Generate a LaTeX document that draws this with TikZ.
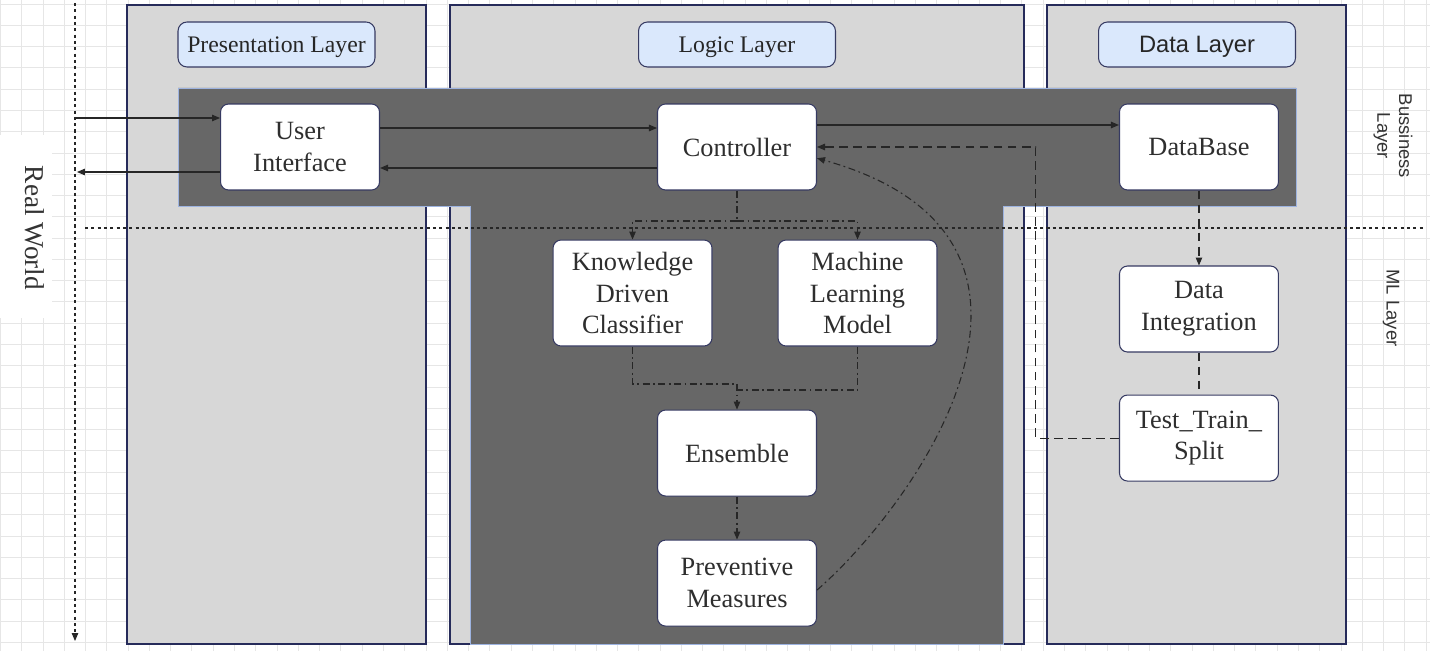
\documentclass[tikz,border=0pt]{standalone}
\usepackage{fontspec}
\setmainfont{Liberation Serif}
\newfontfamily\labelsans{Liberation Sans}
\usepackage{tikz}
\usetikzlibrary{arrows.meta, positioning}

\definecolor{panelgray}{HTML}{D7D7D7}
\definecolor{paneledge}{HTML}{262B5A}
\definecolor{darkband}{HTML}{676767}
\definecolor{bandedge}{HTML}{9DB3E0}
\definecolor{headerblue}{HTML}{DAE8FC}
\definecolor{boxedge}{HTML}{363A62}
\definecolor{gridgray}{HTML}{E6E6E6}

\begin{document}
\begin{tikzpicture}[
        x=0.02cm, y=-0.02cm,
        panel/.style={draw=paneledge, line width=0.6pt, fill=panelgray},
        band/.style={draw=bandedge, line width=0.5pt, fill=darkband},
        header/.style={rectangle, draw=boxedge, line width=0.6pt, rounded corners=0.18cm, fill=headerblue, minimum width=3.94cm, minimum height=0.9cm, text depth=0pt, text=black!85, font=\fontsize{13.5}{16}\selectfont},
        block/.style={rectangle, draw=boxedge, line width=0.6pt, rounded corners=0.16cm, fill=white, minimum width=3.18cm, minimum height=1.72cm, align=center, text=black!82, font=\fontsize{15}{18}\selectfont},
        tallblock/.style={block, minimum height=2.12cm},
        sidelabel/.style={rotate=-90, align=center, text=black!80, font=\labelsans\fontsize{10.5}{12.5}\selectfont},
        arrow/.style={-{Triangle[length=1.6mm, width=1.3mm]}},
        link/.style={line width=0.6pt, draw=black!85},
        mlflow/.style={link, dash pattern=on 4pt off 2pt on 1pt off 2pt},
        dataflow/.style={link, dash pattern=on 5pt off 3pt},
        boundary/.style={line width=0.6pt, draw=black!85, dash pattern=on 1.8pt off 1.8pt},
        gridline/.style={draw=gridgray, line width=0.5pt}
    ]
    \useasboundingbox (0,0) rectangle (1430,651);

    % Background grid
    \foreach \i in {0,...,67} \draw[gridline] ({0.4+21.28*\i},0) -- ++(0,651);
    \foreach \j in {0,...,30} \draw[gridline] (0,{4+21.28*\j}) -- ++(1430,0);

    % Layer columns
    \draw[panel] (127,5) rectangle (426,644);
    \draw[panel] (450,5) rectangle (1024,644);
    \draw[panel] (1047,5) rectangle (1346,644);

    % Dark T band
    \draw[band] (178,88) -- (1296,88) -- (1296,206) -- (1003,206) -- (1003,644)
        -- (470,644) -- (470,206) -- (178,206) -- cycle;

    % Layer titles
    \node (presentation) [header] at (276.5,44.5) {Presentation Layer};
    \node (logic) [header] at (737,44.5) {Logic Layer};
    \node (datalayer) [header, font=\labelsans\fontsize{13.5}{16}\selectfont] at (1197,44.5) {Data Layer};

    % Real World side
    \fill[white] (0,135) rectangle (52,318);
    \node (realworld) [rotate=-90, text=black!80, font=\fontsize{15.5}{18}\selectfont] at (35,228) {Real World};
    \coordinate (rwtop) at (75,3);
    \coordinate (rwbot) at (75,641);
    \draw[boundary, arrow] (rwtop) -- (rwbot);

    % Business / ML divider
    \coordinate (divleft) at (85,228);
    \coordinate (divright) at (1425,228);
    \draw[boundary] (divleft) -- (divright);
    \node (business) [sidelabel] at (1393,136) {Bussiness\\Layer};
    \node (mllayer) [sidelabel] at (1391,308) {ML Layer};

    % Business layer
    \node (controller) [block] at (737,147) {Controller};
    \node (ui) [block, left=5.54cm of controller] {User\\Interface};
    \node (database) [block, right=6.04cm of controller] {DataBase};

    % ML layer
    \node (kdc) [tallblock, below=0.98cm of controller, xshift=-2.09cm] {Knowledge\\Driven\\Classifier};
    \node (mlm) [tallblock, right=1.3cm of kdc] {Machine\\Learning\\Model};
    \node (ensemble) [block, below=1.26cm of controller |- kdc.south] {Ensemble};
    \node (preventive) [block, below=0.86cm of ensemble] {Preventive\\Measures};
    \node (dataint) [block, below=1.5cm of database] {Data\\Integration};
    \node (split) [block, below=0.84cm of dataint] {Test\_Train\_\\Split};

    % Real world <-> UI
    \coordinate (rwin) at (75,118);
    \coordinate (rwout) at (77,172);
    \draw[link, arrow] (rwin) -- (rwin -| ui.west);
    \draw[link, arrow] (rwout -| ui.west) -- (rwout);

    % Business arrows
    \draw[link, arrow] ([yshift=0.38cm]ui.east) -- ([yshift=0.38cm]controller.west);
    \draw[link, arrow] ([yshift=-0.42cm]controller.west) -- ([yshift=-0.42cm]ui.east);
    \draw[link, arrow] ([yshift=0.44cm]controller.east) -- ([yshift=0.44cm]database.west);

    % Classifier flow
    \coordinate (fork) at (737,221);
    \coordinate (joinleft) at (737,384);
    \coordinate (joinright) at (737,390);
    \draw[mlflow] (controller) -- (fork);
    \draw[mlflow, arrow] (fork) -| (kdc);
    \draw[mlflow, arrow] (fork) -| (mlm);
    \draw[mlflow] (kdc) |- (joinleft);
    \draw[mlflow] (mlm) |- (joinright);
    \draw[mlflow, arrow] (joinleft) -- (ensemble);
    \draw[mlflow, arrow] (ensemble) -- (preventive);
    \draw[mlflow, arrow] (preventive.-5) .. controls (920,500) and (1101,238) .. (controller.-8);

    % Data flow
    \draw[dataflow, arrow] (database) -- (dataint);
    \draw[dataflow] (dataint) -- (split);
    \draw[dataflow, arrow] (split.west) -- ++(-83,0) |- (controller.east);

\end{tikzpicture}
\end{document}
